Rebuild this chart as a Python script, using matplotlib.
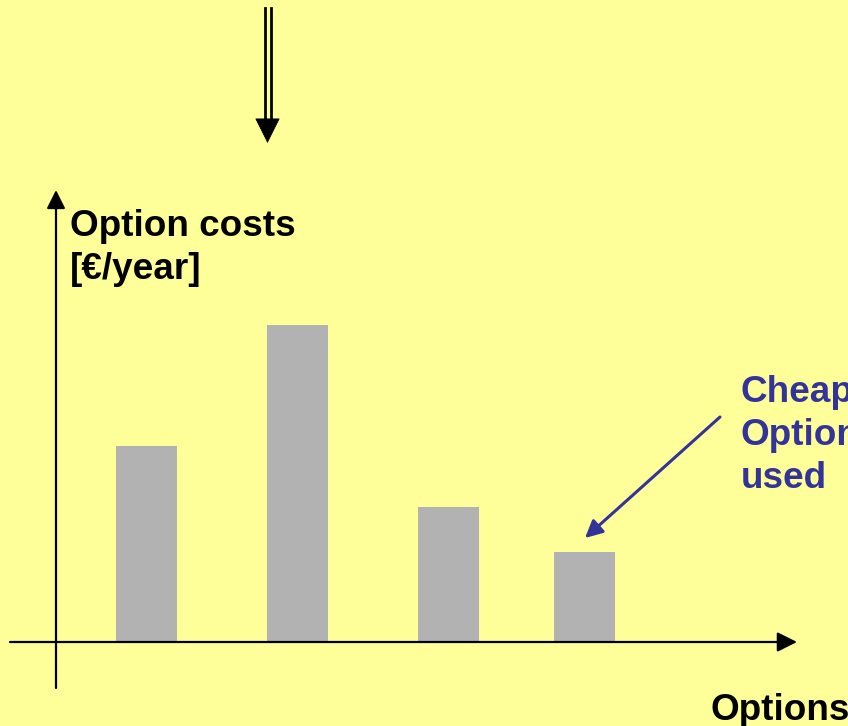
import matplotlib.pyplot as plt

# chart data (arbitrary cost units)
options = ['A', 'B', 'C', 'D']
costs = [196, 317, 135, 90]

# layout
bar_x = [146.5, 297.5, 448.5, 584.5]
bar_w = 61
BG = '#FFFF99'
BAR = '#B2B2B2'
BLUE = '#333399'

plt.rcParams['font.family'] = ['Liberation Sans', 'DejaVu Sans']

fig = plt.figure(figsize=(8.48, 7.26), dpi=100, facecolor=BG)
ax = fig.add_axes([0, 0, 1, 1])
ax.set_facecolor(BG)
ax.set_xlim(0, 848)
ax.set_ylim(-84, 642)
ax.axis('off')

ax.bar(bar_x, costs, width=bar_w, color=BAR, zorder=2)

def py(p):
    # pixel row from top -> data y
    return 642 - p

# axes with arrows
ax.annotate('', xy=(797, 0), xytext=(10, 0),
            arrowprops=dict(arrowstyle='-|>', lw=1.6, color='black', mutation_scale=30,
                            shrinkA=0, shrinkB=0), zorder=3)
ax.annotate('', xy=(56, py(190)), xytext=(56, py(688)),
            arrowprops=dict(arrowstyle='-|>', lw=1.6, color='black', mutation_scale=28,
                            shrinkA=0, shrinkB=0), zorder=3)

# double arrow at the top
ax.plot([264.5, 264.5], [py(8), py(125)], color='black', lw=2)
ax.plot([270.5, 270.5], [py(8), py(125)], color='black', lw=2)
ax.annotate('', xy=(267.5, py(143)), xytext=(267.5, py(119)),
            arrowprops=dict(arrowstyle='-|>', lw=0.5, color='black', mutation_scale=42,
                            shrinkA=0, shrinkB=0))

# labels
ax.text(70, py(209), 'Option costs\n[€/year]', fontsize=26.6, fontweight='bold',
        va='top', ha='left', linespacing=1.3)
ax.text(711, py(693), 'Options', fontsize=26.6, fontweight='bold', va='top', ha='left')

# annotation for cheapest option
ax.annotate('', xy=(585, py(538)), xytext=(720, py(417)),
            arrowprops=dict(arrowstyle='-|>', lw=2.2, color=BLUE, mutation_scale=26,
                            shrinkA=0, shrinkB=0))
ax.text(741, py(375), 'Cheapest\nOption\nused', fontsize=26.6, fontweight='bold',
        color=BLUE, va='top', ha='left', linespacing=1.3)

plt.savefig('out.png', dpi=100, facecolor=BG)
